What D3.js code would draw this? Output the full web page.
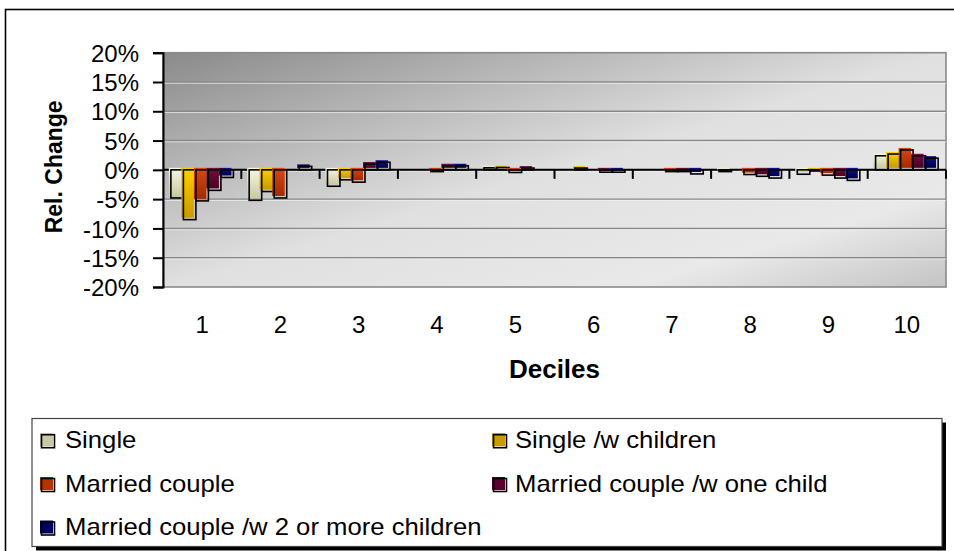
<!DOCTYPE html>
<html>
<head>
<meta charset="utf-8">
<script src="https://cdn.jsdelivr.net/npm/d3@7"></script>
<style>
  html, body { margin: 0; padding: 0; background: #fff; }
  svg { display: block; font-family: "Liberation Sans", Arial, sans-serif; }
</style>
</head>
<body>
<svg id="chart" width="954" height="551"></svg>
<script>
// ---- data ----
const deciles = ["1", "2", "3", "4", "5", "6", "7", "8", "9", "10"];
const seriesNames = ["Single", "Single /w children", "Married couple", "Married couple /w one child", "Married couple /w 2 or more children"];
const single         = [-4.8, -5.2, -2.8, 0.0, 0.35, 0.0, 0.0, -0.3, -0.75, 2.4];
const singleChildren = [-8.5, -3.7, -1.7, 0.0, 0.4, 0.3, 0.0, 0.0, -0.2, 2.7];
const married        = [-5.3, -4.8, -2.1, -0.3, -0.45, 0.0, -0.3, -0.8, -0.9, 3.4];
const marriedOne     = [-3.5, 0.0, 1.0, 0.7, 0.3, -0.4, -0.3, -1.1, -1.4, 2.4];
const marriedTwo     = [-1.3, 0.6, 1.3, 0.7, 0.0, -0.4, -0.7, -1.4, -1.8, 2.0];
const yTicks = [-20, -15, -10, -5, 0, 5, 10, 15, 20];
const yTitle = "Rel. Change";
const xTitle = "Deciles";

const seriesValues = [single, singleChildren, married, marriedOne, marriedTwo];
const seriesColors = [
  ["#f8f8e4", "#c9c9a2"],
  ["#ffd200", "#c89a00"],
  ["#d84812", "#a42a00"],
  ["#72103e", "#4c0024"],
  ["#121280", "#00004e"]
];
const legendSwatch = ["#c8c8a6", "#c89c00", "#b43400", "#5a0030", "#00005e"];

// ---- layout ----
const svg = d3.select("#chart");
const plot = { left: 163, right: 946, top: 52.7, bottom: 287 };

const x0 = d3.scaleBand().domain(deciles).range([plot.left, plot.right]);
const x1 = d3.scaleBand().domain(seriesNames).range([0, x0.bandwidth()]).paddingInner(0).paddingOuter(0.63);
const y = d3.scaleLinear().domain([-20, 20]).range([plot.bottom, plot.top]);

const defs = svg.append("defs");
const bg = defs.append("linearGradient").attr("id", "bg").attr("x1", 0).attr("y1", 0).attr("x2", 1).attr("y2", 1);
bg.append("stop").attr("offset", 0).attr("stop-color", "#8a8a8a");
bg.append("stop").attr("offset", 0.5).attr("stop-color", "#e0e0e0");
bg.append("stop").attr("offset", 0.8).attr("stop-color", "#e9e9e9");
bg.append("stop").attr("offset", 1).attr("stop-color", "#c4c4c4");

seriesColors.forEach((c, i) => {
  const g = defs.append("linearGradient").attr("id", "s" + i).attr("x1", 0).attr("y1", 0).attr("x2", 0).attr("y2", 1);
  g.append("stop").attr("offset", 0).attr("stop-color", c[0]);
  g.append("stop").attr("offset", 1).attr("stop-color", c[1]);
});

// white page and outer frame
svg.append("rect").attr("width", 954).attr("height", 551).attr("fill", "#fff");
svg.append("rect").attr("x", 5.5).attr("y", 9.5).attr("width", 1000).attr("height", 1000)
  .attr("fill", "#fff").attr("stroke", "#000").attr("stroke-width", 1.6);

// plot background
svg.append("rect").attr("x", plot.left).attr("y", plot.top)
  .attr("width", plot.right - plot.left).attr("height", plot.bottom - plot.top)
  .attr("fill", "url(#bg)").attr("stroke", "#8a8a8a").attr("stroke-width", 1.6);

// gridlines
const grid = svg.append("g");
yTicks.filter(t => t !== -20 && t !== 20).forEach(t => {
  grid.append("line").attr("x1", plot.left).attr("x2", plot.right)
    .attr("y1", y(t)).attr("y2", y(t)).attr("stroke", "#888").attr("stroke-width", 1.4);
  grid.append("line").attr("x1", plot.left).attr("x2", plot.right)
    .attr("y1", y(t) + 1.3).attr("y2", y(t) + 1.3).attr("stroke", "#f4f4f4").attr("stroke-opacity", 0.7).attr("stroke-width", 1);
});

// y axis
const yAxis = d3.axisLeft(y).tickValues(yTicks).tickFormat(d => d + "%").tickSize(10).tickPadding(14);
const yg = svg.append("g").attr("transform", `translate(${plot.left},0)`).call(yAxis);
yg.select(".domain").attr("stroke", "#000").attr("stroke-width", 2);
yg.selectAll(".tick line").attr("stroke", "#000").attr("stroke-width", 2);
yg.selectAll(".tick text").attr("font-size", 24).attr("fill", "#000")
  .attr("font-family", "'Liberation Sans', Arial, sans-serif").attr("dy", "0.36em");

// x axis at zero (category boundary ticks)
const zeroY = y(0);
svg.append("line").attr("x1", plot.left).attr("x2", plot.right).attr("y1", zeroY).attr("y2", zeroY)
  .attr("stroke", "#000").attr("stroke-width", 2);
deciles.forEach(d => {
  const xb = x0(d) + x0.bandwidth();
  svg.append("line").attr("x1", xb).attr("x2", xb).attr("y1", zeroY).attr("y2", zeroY + 9)
    .attr("stroke", "#000").attr("stroke-width", 2);
});
// category labels
svg.append("g").selectAll("text").data(deciles).join("text")
  .attr("x", d => x0(d) + x0.bandwidth() / 2).attr("y", 333)
  .attr("text-anchor", "middle").attr("font-size", 24).attr("fill", "#000").text(d => d);

// bars
const barsG = svg.append("g");
seriesValues.forEach((vals, si) => {
  vals.forEach((v, di) => {
    if (v === 0) return;
    const bx = x0(deciles[di]) + x1(seriesNames[si]);
    const bw = x1.bandwidth();
    const yt = y(Math.max(0, v));
    const yb = y(Math.min(0, v));
    const h = yb - yt;
    barsG.append("rect").attr("x", bx - 2).attr("y", yt - 2).attr("width", bw).attr("height", h)
      .attr("fill", `url(#s${si})`);
    barsG.append("rect").attr("x", bx).attr("y", yt).attr("width", bw).attr("height", h)
      .attr("fill", "none").attr("stroke", "#000").attr("stroke-width", 1.6);
  });
});

// axis titles
svg.append("text").attr("x", (plot.left + plot.right) / 2).attr("y", 378)
  .attr("text-anchor", "middle").attr("font-size", 26).attr("font-weight", "bold").text(xTitle);
svg.append("text").attr("transform", `translate(62,${(plot.top + plot.bottom) / 2 - 3}) rotate(-90)`)
  .attr("text-anchor", "middle").attr("font-size", 23).attr("font-weight", "bold").text(yTitle);

// legend
const lg = { x: 32, y: 418.5, w: 910, h: 128 };
svg.append("rect").attr("x", lg.x + 4).attr("y", lg.y + 4).attr("width", lg.w).attr("height", lg.h).attr("fill", "#000");
svg.append("rect").attr("x", lg.x).attr("y", lg.y).attr("width", lg.w).attr("height", lg.h)
  .attr("fill", "#fff").attr("stroke", "#444").attr("stroke-width", 1.2);

const colX = [41.5, 493.5];
const textX = [65, 515];
const rowBase = [447.7, 491.5, 535];
seriesNames.forEach((name, i) => {
  const c = i % 2, r = Math.floor(i / 2);
  const sx = colX[c], sy = rowBase[r] - 13;
  svg.append("rect").attr("x", sx - 1.5).attr("y", sy - 1.5).attr("width", 13).attr("height", 13)
    .attr("fill", legendSwatch[i]);
  svg.append("rect").attr("x", sx).attr("y", sy).attr("width", 13).attr("height", 13)
    .attr("fill", "none").attr("stroke", "#000").attr("stroke-width", 1.6);
  svg.append("text").attr("transform", `translate(${textX[c]},${rowBase[r]}) scale(1.07,1)`)
    .attr("font-size", 24).attr("fill", "#000").text(name);
});
</script>
</body>
</html>
